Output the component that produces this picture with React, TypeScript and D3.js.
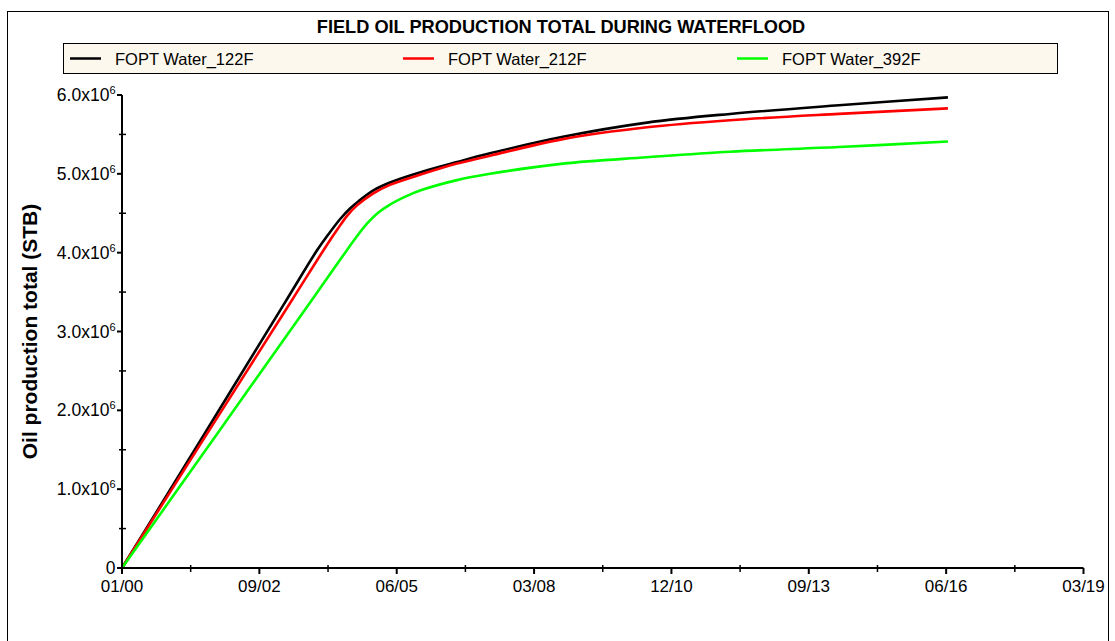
import React from "react";
import * as d3 from "d3";

// x values are days since 01 Jan 2000; y values are STB
const days122 = [0, 600, 1187, 1420, 1510, 1590, 1660, 1720, 1830, 1951, 2191, 2439, 2679, 3210, 3822, 4426, 5219, 6013];
const fopt122 = [0, 1.7e6, 3.37e6, 4.03e6, 4.25e6, 4.43e6, 4.56e6, 4.65e6, 4.79e6, 4.89e6, 5.03e6, 5.15e6, 5.26e6, 5.47e6, 5.65e6, 5.76e6, 5.87e6, 5.97e6];

const days212 = [0, 600, 1238, 1500, 1570, 1640, 1711, 1827, 1951, 2191, 2439, 2679, 3210, 3822, 4426, 5219, 6013];
const fopt212 = [0, 1.65e6, 3.4e6, 4.12e6, 4.3e6, 4.47e6, 4.6e6, 4.75e6, 4.86e6, 5.0e6, 5.13e6, 5.23e6, 5.44e6, 5.59e6, 5.68e6, 5.76e6, 5.83e6];

const days392 = [0, 700, 1390, 1600, 1720, 1790, 1860, 1951, 2075, 2191, 2439, 2679, 3210, 3822, 4426, 5219, 6013];
const fopt392 = [0, 1.72e6, 3.42e6, 3.94e6, 4.23e6, 4.38e6, 4.5e6, 4.61e6, 4.72e6, 4.8e6, 4.92e6, 5.0e6, 5.13e6, 5.21e6, 5.28e6, 5.34e6, 5.41e6];

const seriesNames = ["FOPT Water_122F", "FOPT Water_212F", "FOPT Water_392F"];
const seriesColors = ["#000000", "#ff0000", "#00ff00"];

const xMajorTicks = [0, 1000, 2000, 3000, 4000, 5000, 6000, 7000];
const xMinorTicks = [500, 1500, 2500, 3500, 4500, 5500, 6500];
const yMajorTicks = [0, 1e6, 2e6, 3e6, 4e6, 5e6, 6e6];
const yMinorTicks = [0.5e6, 1.5e6, 2.5e6, 3.5e6, 4.5e6, 5.5e6];

const title = "FIELD OIL PRODUCTION TOTAL DURING WATERFLOOD";
const yTitle = "Oil production total (STB)";

const FONT = "Arial, 'Liberation Sans', Helvetica, sans-serif";

export default function App() {
  const x = d3.scaleLinear().domain([0, 7000]).range([122, 1083.5]);
  const y = d3.scaleLinear().domain([0, 6e6]).range([568, 95]);
  const start = new Date(2000, 0, 1);
  const fmt = d3.timeFormat("%m/%y");
  const dayLabel = (d: number) => fmt(d3.timeDay.offset(start, d));

  const series = [
    { days: days122, vals: fopt122 },
    { days: days212, vals: fopt212 },
    { days: days392, vals: fopt392 },
  ];
  const line = d3
    .line<[number, number]>()
    .x((d) => x(d[0]))
    .y((d) => y(d[1]))
    .curve(d3.curveCatmullRom.alpha(0.5));

  const legendX = [70, 403, 737];

  return (
    <svg
      width={1115}
      height={641}
      style={{ position: "absolute", left: 0, top: 0, background: "#fff" }}
      fontFamily={FONT}
    >
      <rect x={0} y={0} width={1115} height={641} fill="#fff" />
      <rect x={7.5} y={11.5} width={1101} height={700} fill="none" stroke="#000" strokeWidth={1} />
      <text x={561} y={33} textAnchor="middle" fontWeight="bold" fontSize={18.2}>
        {title}
      </text>
      <rect x={63.5} y={43.5} width={994} height={30} fill="#fcf8ee" stroke="#000" strokeWidth={1} />
      {seriesNames.map((n, i) => (
        <g key={n}>
          <line x1={legendX[i]} x2={legendX[i] + 31} y1={58.5} y2={58.5} stroke={seriesColors[i]} strokeWidth={2.5} />
          <text x={legendX[i] + 45} y={64.5} fontSize={16.5}>
            {n}
          </text>
        </g>
      ))}

      {/* curves */}
      {series.map((s, i) => (
        <path
          key={i}
          d={line(s.days.map((d, j) => [d, s.vals[j]] as [number, number])) || ""}
          fill="none"
          stroke={seriesColors[i]}
          strokeWidth={2.6}
          strokeLinejoin="round"
        />
      ))}

      {/* axes */}
      <line x1={x(0)} x2={x(7000)} y1={y(0)} y2={y(0)} stroke="#000" strokeWidth={2} />
      <line x1={x(0)} x2={x(0)} y1={y(0)} y2={y(6e6)} stroke="#000" strokeWidth={2} />
      {xMajorTicks.map((t) => (
        <g key={"xm" + t}>
          <line x1={x(t)} x2={x(t)} y1={y(0)} y2={y(0) + 6} stroke="#000" strokeWidth={2} />
          <text x={x(t)} y={591.5} textAnchor="middle" fontSize={17}>
            {dayLabel(t)}
          </text>
        </g>
      ))}
      {xMinorTicks.map((t) => (
        <line key={"xn" + t} x1={x(t)} x2={x(t)} y1={y(0) - 3} y2={y(0) + 4} stroke="#000" strokeWidth={1.5} />
      ))}
      {yMajorTicks.map((t) => (
        <g key={"ym" + t}>
          <line x1={x(0) - 5} x2={x(0)} y1={y(t)} y2={y(t)} stroke="#000" strokeWidth={2} />
          <text x={115.5} y={y(t) + 6} textAnchor="end" fontSize={17.5}>
            {t === 0 ? (
              "0"
            ) : (
              <>
                {(t / 1e6).toFixed(1) + "x10"}
                <tspan fontSize={11} dy={-7}>
                  6
                </tspan>
              </>
            )}
          </text>
        </g>
      ))}
      {yMinorTicks.map((t) => (
        <line key={"yn" + t} x1={x(0) - 3} x2={x(0) + 4} y1={y(t)} y2={y(t)} stroke="#000" strokeWidth={1.5} />
      ))}
      <text
        transform={`translate(37, ${(y(0) + y(6e6)) / 2}) rotate(-90)`}
        textAnchor="middle"
        fontWeight="bold"
        fontSize={21}
      >
        {yTitle}
      </text>
    </svg>
  );
}
